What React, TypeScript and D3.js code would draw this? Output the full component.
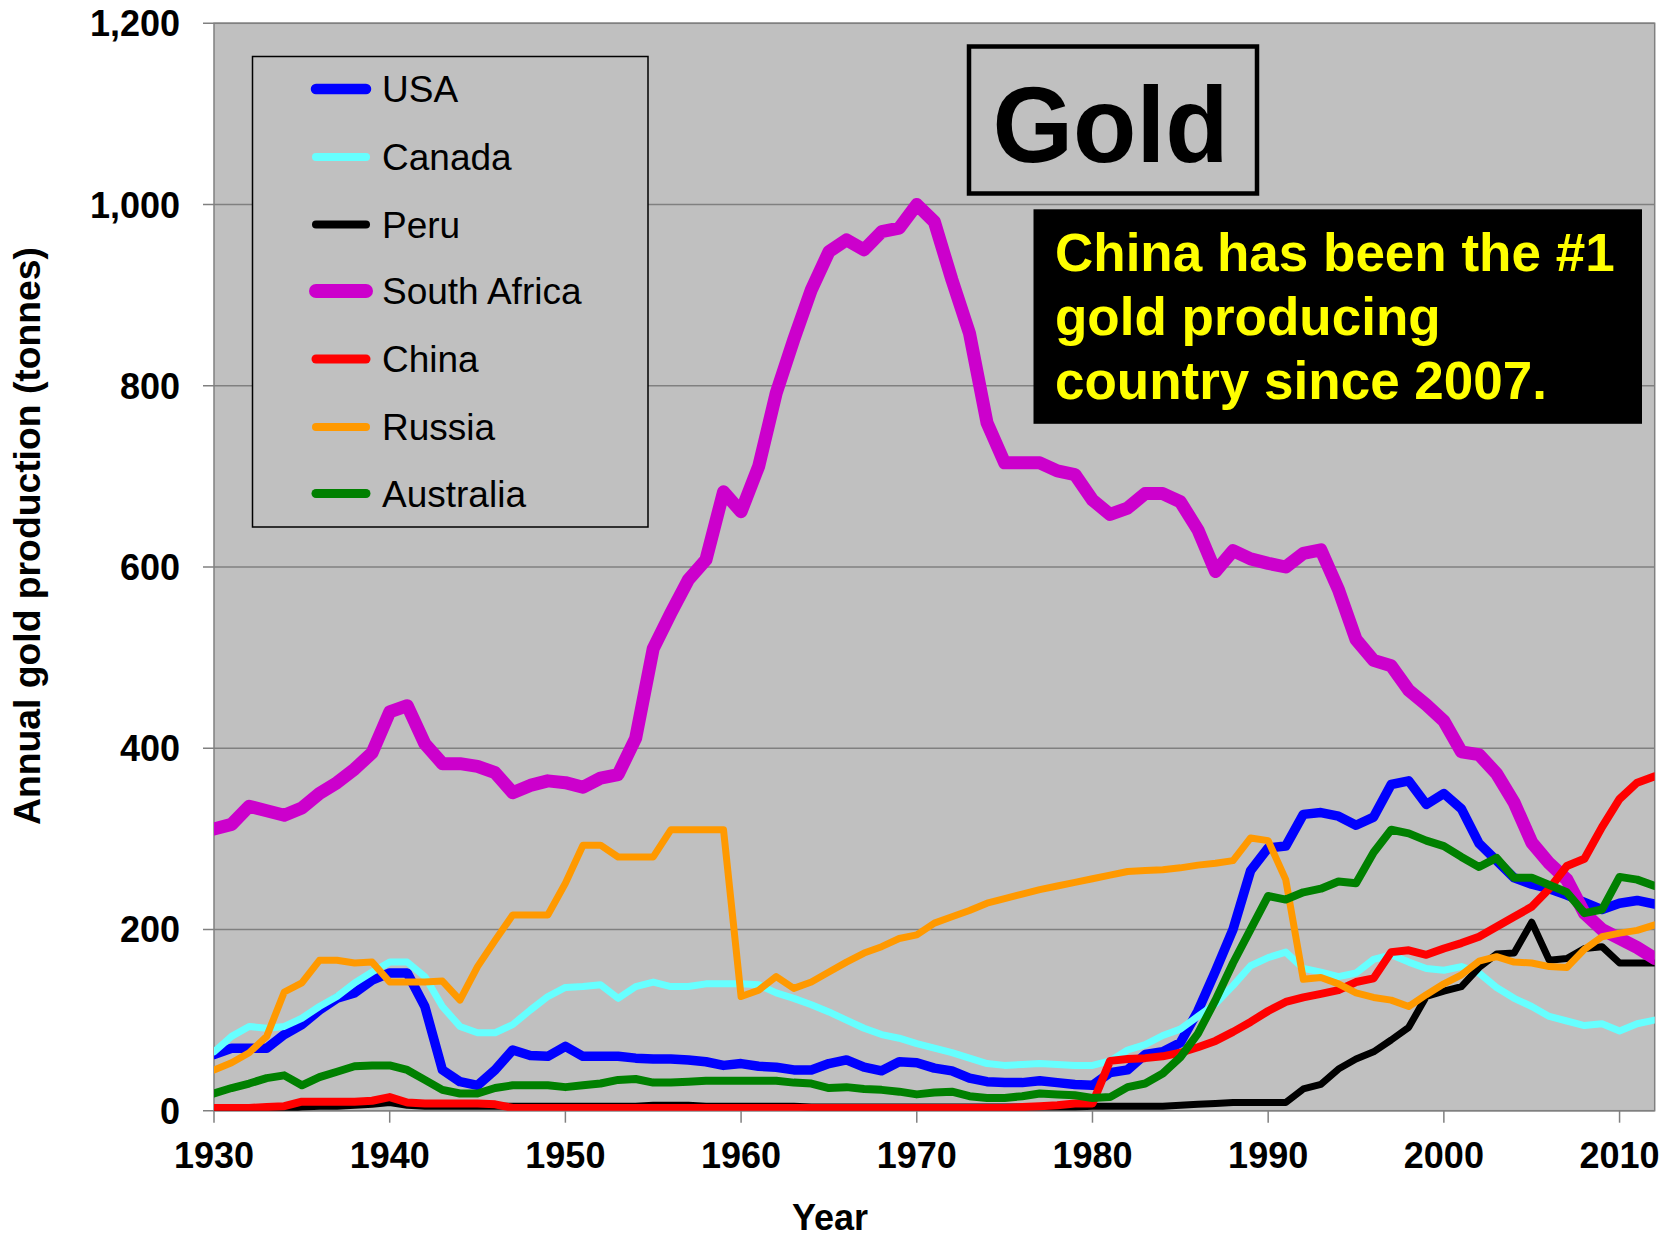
import React from 'react';
import * as d3 from 'd3';

const years: number[] = d3.range(1930, 2013);

const usa = [
  62, 69, 69, 69, 84, 95, 111, 124, 130, 144,
  152, 152, 115, 45, 32, 28, 45, 67, 61, 60,
  71, 60, 60, 60, 58, 57, 57, 56, 54, 50,
  52, 49, 48, 45, 45, 52, 56, 48, 44, 54,
  53, 47, 44, 36, 32, 31, 31, 33, 31, 29,
  28, 42, 45, 62, 65, 75, 110, 154, 200, 265,
  290, 292, 327, 329, 325, 315, 324, 360, 364, 338,
  350, 333, 295, 276, 257, 250, 245, 238, 230, 222,
  229, 232, 228,
];

const canada = [
  65, 82, 93, 91, 93, 102, 115, 126, 141, 153,
  164, 164, 148, 115, 93, 86, 86, 95, 111, 126,
  136, 137, 139, 124, 137, 142, 137, 137, 140, 140,
  140, 139, 130, 124, 117, 109, 100, 91, 84, 80,
  74, 69, 64, 58, 52, 50, 51, 52, 51, 50,
  50, 55, 67, 73, 83, 90, 104, 118, 138, 160,
  169, 175, 157, 153, 148, 152, 167, 172, 164, 157,
  155, 159, 152, 136, 124, 115, 104, 99, 94, 96,
  88, 96, 100,
];

const peru = [
  1, 1, 1, 1, 2, 4, 5, 5, 6, 7,
  9, 6, 5, 5, 5, 5, 5, 5, 5, 5,
  5, 5, 5, 5, 5, 6, 6, 6, 5, 5,
  5, 5, 5, 5, 4, 4, 4, 4, 4, 4,
  4, 4, 4, 4, 4, 4, 4, 4, 4, 4,
  5, 5, 5, 5, 5, 6, 7, 8, 9, 9,
  9, 9, 24, 29, 46, 57, 65, 78, 92, 126,
  132, 137, 158, 173, 174, 208, 166, 168, 179, 181,
  163, 163, 163,
];

const southAfrica = [
  311, 316, 336, 331, 326, 334, 350, 362, 377, 395,
  440, 447, 405, 383, 383, 380, 373, 351, 359, 364,
  362, 357, 367, 371, 411, 510, 549, 586, 608, 683,
  661, 711, 792, 851, 906, 948, 961, 950, 970, 974,
  1000, 981, 917, 858, 759, 715, 715, 715, 706, 702,
  674, 658, 665, 681, 681, 672, 641, 595, 618, 609,
  604, 600, 615, 619, 575, 520, 497, 491, 464, 448,
  430, 396, 393, 372, 340, 296, 273, 255, 218, 200,
  190, 180, 168,
];

const china = [
  3, 3, 3, 4, 5, 10, 10, 10, 10, 11,
  15, 9, 8, 8, 8, 8, 7, 3, 3, 3,
  3, 3, 3, 3, 3, 3, 3, 3, 3, 3,
  3, 3, 3, 3, 3, 3, 3, 3, 3, 3,
  3, 3, 3, 3, 3, 3, 4, 5, 6, 8,
  8, 55, 57, 58, 60, 64, 70, 77, 87, 98,
  110, 120, 125, 129, 133, 142, 146, 175, 177, 172,
  179, 185, 192, 203, 214, 225, 245, 270, 278, 313,
  344, 362, 369,
];

const russia = [
  45, 53, 64, 82, 131, 141, 166, 166, 163, 164,
  142, 142, 142, 143, 122, 159, 188, 216, 216, 216,
  251, 293, 293, 280, 280, 280, 310, 310, 310, 310,
  126, 133, 148, 135, 142, 153, 164, 174, 181, 190,
  194, 207, 214, 221, 229, 234, 239, 244, 248, 252,
  256, 260, 264, 265, 266, 268, 271, 273, 276, 301,
  298, 255, 145, 147, 140, 130, 125, 122, 115, 128,
  140, 150, 165, 170, 164, 163, 159, 158, 178, 192,
  196, 199, 205,
];

const australia = [
  19, 25, 30, 36, 39, 28, 37, 43, 49, 50,
  50, 45, 34, 23, 19, 19, 25, 28, 28, 28,
  26, 28, 30, 34, 35, 31, 31, 32, 33, 33,
  33, 33, 33, 31, 30, 25, 26, 24, 23, 21,
  18, 20, 21, 16, 14, 14, 16, 19, 18, 17,
  14, 15, 26, 30, 41, 59, 85, 122, 163, 200,
  237, 233, 241, 245, 253, 251, 285, 310, 306, 298,
  292, 280, 269, 279, 257, 257, 249, 241, 218, 222,
  258, 255, 248,
];

const seriesNames = ['USA', 'Canada', 'Peru', 'South Africa', 'China', 'Russia', 'Australia'];
const seriesValues = [usa, canada, peru, southAfrica, china, russia, australia];
const seriesColors = ['#0000ff', '#66ffff', '#000000', '#cc00cc', '#ff0000', '#ff9900', '#008000'];
const seriesWidths = [9.5, 7, 7, 13, 8, 7, 8];

const yTicks = [0, 200, 400, 600, 800, 1000, 1200];
const xTicks = [1930, 1940, 1950, 1960, 1970, 1980, 1990, 2000, 2010];

const noteLines = ['China has been the #1', 'gold producing', 'country since 2007.'];

const FONT = '"Liberation Sans", Arial, Helvetica, sans-serif';

export default function App() {
  const W = 1663;
  const H = 1239;
  const left = 214;
  const right = 1654.7;
  const top = 23.3;
  const bottom = 1110.7;

  const x = d3.scaleLinear().domain([1930, 2012]).range([left, right]);
  const y = d3.scaleLinear().domain([0, 1200]).range([bottom, top]);
  const fmt = d3.format(',');

  const line = d3
    .line<number>()
    .x((_, i) => x(years[i]))
    .y((d) => y(d));

  const legendRowY = [89, 157, 224.5, 291, 359, 427, 493.5];

  return (
    <svg
      width={W}
      height={H}
      style={{ position: 'absolute', left: 0, top: 0, background: '#ffffff' }}
      fontFamily={FONT}
    >
      <defs>
        <clipPath id="plotClip">
          <rect x={left} y={top} width={right - left} height={bottom - top} />
        </clipPath>
      </defs>
      <rect x={0} y={0} width={W} height={H} fill="#ffffff" />
      {/* plot area */}
      <rect x={left} y={top} width={right - left} height={bottom - top} fill="#c0c0c0" />
      {/* gridlines */}
      {yTicks.map((t) => (
        <line key={'g' + t} x1={left - 11} x2={right} y1={y(t)} y2={y(t)} stroke="#808080" strokeWidth={1.5} />
      ))}
      {/* plot border */}
      <rect x={left} y={top} width={right - left} height={bottom - top} fill="none" stroke="#808080" strokeWidth={1.5} />
      {/* x ticks */}
      {xTicks.map((t) => (
        <line key={'xt' + t} x1={x(t)} x2={x(t)} y1={bottom} y2={bottom + 12} stroke="#808080" strokeWidth={1.5} />
      ))}
      {/* series */}
      <g clipPath="url(#plotClip)">
        {seriesValues.map((vals, i) => (
          <path
            key={seriesNames[i]}
            d={line(vals) || ''}
            fill="none"
            stroke={seriesColors[i]}
            strokeWidth={seriesWidths[i]}
            strokeLinejoin="round"
            strokeLinecap="round"
          />
        ))}
      </g>
      {/* y tick labels */}
      {yTicks.map((t) => (
        <text
          key={'yl' + t}
          x={180}
          y={y(t) + 13}
          textAnchor="end"
          fontSize={36}
          fontWeight="bold"
          fill="#000000"
        >
          {fmt(t)}
        </text>
      ))}
      {/* x tick labels */}
      {xTicks.map((t) => (
        <text
          key={'xl' + t}
          x={x(t)}
          y={1168}
          textAnchor="middle"
          fontSize={36}
          fontWeight="bold"
          fill="#000000"
        >
          {t}
        </text>
      ))}
      {/* axis titles */}
      <text x={830} y={1230} textAnchor="middle" fontSize={36} fontWeight="bold" fill="#000000">
        Year
      </text>
      <text
        transform="translate(40,536) rotate(-90)"
        textAnchor="middle"
        fontSize={37}
        fontWeight="bold"
        fill="#000000"
        textLength={578}
        lengthAdjust="spacingAndGlyphs"
      >
        Annual gold production (tonnes)
      </text>
      {/* legend */}
      <rect x={252.5} y={56.5} width={395.5} height={470.5} fill="#c0c0c0" stroke="#000000" strokeWidth={1.5} />
      {seriesNames.map((n, i) => (
        <g key={'lg' + n}>
          <line
            x1={316}
            x2={366}
            y1={legendRowY[i]}
            y2={legendRowY[i]}
            stroke={seriesColors[i]}
            strokeWidth={seriesWidths[i] + 1}
            strokeLinecap="round"
          />
          <text x={382} y={legendRowY[i] + 13} fontSize={37} fill="#000000">
            {n}
          </text>
        </g>
      ))}
      {/* Gold title box */}
      <rect x={969} y={46.5} width={288} height={147} fill="#c0c0c0" stroke="#000000" strokeWidth={4.5} />
      <text
        x={992.5}
        y={161.5}
        fontSize={108}
        fontWeight="bold"
        fill="#000000"
        textLength={236}
        lengthAdjust="spacingAndGlyphs"
      >
        Gold
      </text>
      {/* note box */}
      <rect x={1033.5} y={209.3} width={608.5} height={214.5} fill="#000000" />
      {noteLines.map((s, i) => (
        <text key={'n' + i} x={1055} y={271 + i * 64} fontSize={53} fontWeight="bold" fill="#ffff00">
          {s}
        </text>
      ))}
    </svg>
  );
}
